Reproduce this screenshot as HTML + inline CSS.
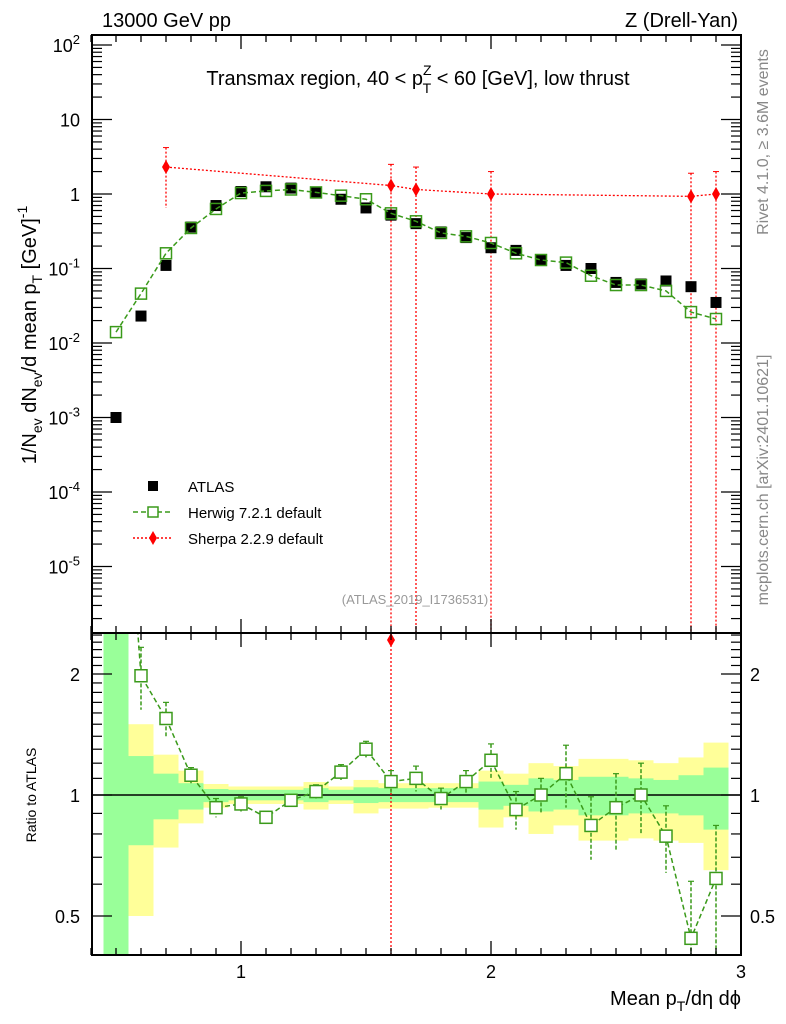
<!DOCTYPE html>
<html><head><meta charset="utf-8"><style>
html,body{margin:0;padding:0;background:#fff;width:786px;height:1024px;overflow:hidden;}
svg{display:block;font-family:"Liberation Sans",sans-serif;}
</style></head><body>
<svg id="c" width="786" height="1024" viewBox="0 0 786 1024" xmlns="http://www.w3.org/2000/svg">
<defs>
<clipPath id="cm"><rect x="92" y="35" width="649" height="598"/></clipPath>
<clipPath id="cr"><rect x="92" y="633" width="649" height="322"/></clipPath>
</defs>
<g id="bands" clip-path="url(#cr)"></g>
<g id="main"></g>
<g id="ratio"></g>
<g id="axes"></g>
<text x="102" y="27" font-size="20">13000 GeV pp</text>
<text x="738" y="27" font-size="20" text-anchor="end">Z (Drell-Yan)</text>
<text x="418" y="85" font-size="20" text-anchor="middle">Transmax region, 40 &lt; p<tspan font-size="14" dy="-10">Z</tspan><tspan font-size="14" dx="-9" dy="18">T</tspan><tspan dy="-8"> &lt; 60 [GeV], low thrust</tspan></text>
<text x="415" y="604" font-size="13" fill="#999" text-anchor="middle">(ATLAS_2019_I1736531)</text>
<text transform="translate(768,142) rotate(-90)" font-size="16" fill="#888" text-anchor="middle">Rivet 4.1.0, ≥ 3.6M events</text>
<text transform="translate(768,480) rotate(-90)" font-size="16" fill="#888" text-anchor="middle">mcplots.cern.ch [arXiv:2401.10621]</text>
<text transform="translate(36,335) rotate(-90)" font-size="20" text-anchor="middle">1/N<tspan font-size="14" dy="6">ev</tspan><tspan dy="-6"> dN</tspan><tspan font-size="14" dy="6">ev</tspan><tspan dy="-6">/d mean p</tspan><tspan font-size="14" dy="6">T</tspan><tspan dy="-6"> [GeV]</tspan><tspan font-size="14" dy="-9">-1</tspan></text>
<text transform="translate(36,795) rotate(-90)" font-size="14" text-anchor="middle">Ratio to ATLAS</text>
<text x="741" y="1005" font-size="20" text-anchor="end">Mean p<tspan font-size="14" dy="6">T</tspan><tspan dy="-6">/dη dϕ</tspan></text>
<g>
<rect x="148" y="481" width="10" height="10" fill="#000"/>
<text x="188" y="492" font-size="15">ATLAS</text>
<line x1="133" y1="512" x2="173" y2="512" stroke="#3a9a1a" stroke-width="1.5" stroke-dasharray="5,3"/>
<rect x="148" y="507" width="10" height="10" fill="#fff" stroke="#3a9a1a" stroke-width="1.5"/>
<text x="188" y="518" font-size="15">Herwig 7.2.1 default</text>
<line x1="133" y1="538" x2="173" y2="538" stroke="#f00" stroke-width="1.5" stroke-dasharray="2,2"/>
<path d="M153,531 L157,538 L153,545 L149,538Z" fill="#f00"/>
<text x="188" y="544" font-size="15">Sherpa 2.2.9 default</text>
</g>
</svg>
<script>
const xBins=[0.5,0.6,0.7,0.8,0.9,1.0,1.1,1.2,1.3,1.4,1.5,1.6,1.7,1.8,1.9,2.0,2.1,2.2,2.3,2.4,2.5,2.6,2.7,2.8,2.9];
const atlasVals=[1e-3,0.023,0.11,0.36,0.7,1.08,1.25,1.2,1.05,0.85,0.65,0.52,0.4,0.31,0.26,0.19,0.175,0.13,0.11,0.1,0.065,0.062,0.068,0.057,0.035];
const herwigVals=[0.014,0.046,0.16,0.35,0.63,1.03,1.1,1.15,1.05,0.95,0.85,0.55,0.43,0.3,0.27,0.22,0.16,0.13,0.12,0.08,0.06,0.06,0.05,0.026,0.021];
const herwigRatio=[14,1.98,1.55,1.12,0.93,0.95,0.88,0.97,1.02,1.14,1.3,1.08,1.1,0.98,1.08,1.22,0.92,1.0,1.13,0.84,0.93,1.0,0.79,0.44,0.62];
const herwigRatioErr=[0.4,0.35,0.15,0.05,0.05,0.04,0.03,0.03,0.04,0.05,0.06,0.07,0.08,0.06,0.07,0.12,0.1,0.1,0.2,0.15,0.2,0.2,0.15,0.17,0.22];
const sherpaX=[0.7,1.6,1.7,2.0,2.8,2.9];
const sherpaVals=[2.3,1.3,1.15,1.0,0.93,1.0];
const sherpaUp=[4.2,2.5,2.3,2.0,1.9,2.0];
const sherpaDown=[0.65,1e-7,1e-7,1e-7,1e-7,1e-7];
const yellowUp=[9,1.5,1.26,1.15,1.065,1.05,1.05,1.05,1.077,1.05,1.09,1.07,1.07,1.07,1.07,1.15,1.13,1.2,1.18,1.23,1.23,1.22,1.2,1.24,1.35];
const yellowDn=[0.1,0.5,0.74,0.85,0.93,0.95,0.95,0.95,0.92,0.95,0.9,0.925,0.925,0.93,0.93,0.83,0.88,0.8,0.84,0.77,0.77,0.78,0.77,0.76,0.65];
const greenUp=[9,1.25,1.13,1.07,1.035,1.03,1.03,1.03,1.04,1.03,1.045,1.04,1.04,1.04,1.04,1.08,1.06,1.1,1.09,1.11,1.11,1.1,1.09,1.12,1.17];
const greenDn=[0.1,0.75,0.87,0.92,0.96,0.97,0.97,0.97,0.96,0.97,0.955,0.96,0.96,0.96,0.96,0.92,0.94,0.91,0.92,0.89,0.89,0.9,0.9,0.89,0.82];
const xTickLabels=[1,2,3];
const yMainTicks=[-5,-4,-3,-2,-1,0,1,2];
const yRatioTicks=[0.5,1,2];

const NS="http://www.w3.org/2000/svg";
const X=v=>241+(v-1)*250;
const Y=v=>194-Math.log10(v)*74.5;
const R=v=>795-Math.log2(v)*121;
function mk(p,t,a){const e=document.createElementNS(NS,t);for(const k in a)e.setAttribute(k,a[k]);p.appendChild(e);return e;}
const bands=document.getElementById('bands'),main=document.getElementById('main'),ratio=document.getElementById('ratio'),axes=document.getElementById('axes');
const G="#3a9a1a";
xBins.forEach((b,i)=>{
 const x0=X(b-0.05),w=X(b+0.05)-x0;
 let r=mk(bands,'rect',{x:x0,y:R(yellowUp[i]),width:w,height:R(yellowDn[i])-R(yellowUp[i]),fill:'#ffff99'});
 
 
 r=mk(bands,'rect',{x:x0,y:R(greenUp[i]),width:w,height:R(greenDn[i])-R(greenUp[i]),fill:'#99ff99'});
 
 
});
mk(ratio,'line',{x1:92,x2:741,y1:R(1),y2:R(1),stroke:'#000','stroke-width':1.5});
const gm=mk(main,'g',{'clip-path':'url(#cm)'});
mk(gm,'polyline',{points:sherpaX.map((x,i)=>X(x)+','+Y(sherpaVals[i])).join(' '),fill:'none',stroke:'#f00','stroke-width':1.3,'stroke-dasharray':'2,2'});
sherpaX.forEach((x,i)=>{
 mk(gm,'line',{x1:X(x),x2:X(x),y1:Y(sherpaUp[i]),y2:Y(sherpaDown[i]),stroke:'#f00','stroke-width':1.3,'stroke-dasharray':'2,2'});
 mk(gm,'line',{x1:X(x)-3,x2:X(x)+3,y1:Y(sherpaUp[i]),y2:Y(sherpaUp[i]),stroke:'#f00','stroke-width':1});
 const cx=X(x),cy=Y(sherpaVals[i]);
 const p=mk(gm,'path',{d:`M${cx},${cy-7}L${cx+4},${cy}L${cx},${cy+7}L${cx-4},${cy}Z`,fill:'#f00'});
 
 
});
xBins.forEach((x,i)=>{
 const r=mk(gm,'rect',{x:X(x)-5.5,y:Y(atlasVals[i])-5.5,width:11,height:11,fill:'#000'});
 
 
});
mk(gm,'polyline',{points:xBins.map((x,i)=>X(x)+','+Y(herwigVals[i])).join(' '),fill:'none',stroke:G,'stroke-width':1.5,'stroke-dasharray':'5,3'});
xBins.forEach((x,i)=>{
 const r=mk(gm,'rect',{x:X(x)-5.5,y:Y(herwigVals[i])-5.5,width:11,height:11,fill:'none',stroke:G,'stroke-width':1.5});
 
 
});
const gr=mk(ratio,'g',{'clip-path':'url(#cr)'});
mk(gr,'line',{x1:X(1.6),x2:X(1.6),y1:633,y2:955,stroke:'#f00','stroke-width':1.3,'stroke-dasharray':'2,2'});
mk(gr,'path',{d:`M${X(1.6)},633L${X(1.6)+4},640L${X(1.6)},647L${X(1.6)-4},640Z`,fill:'#f00'});
mk(gr,'polyline',{points:xBins.map((x,i)=>X(x)+','+R(herwigRatio[i])).join(' '),fill:'none',stroke:G,'stroke-width':1.5,'stroke-dasharray':'5,3'});
xBins.forEach((x,i)=>{
 const v=herwigRatio[i],e=herwigRatioErr[i];
 mk(gr,'line',{x1:X(x),x2:X(x),y1:R(v+e),y2:R(Math.max(v-e,0.05)),stroke:G,'stroke-width':1.5,'stroke-dasharray':'4,2'});
 mk(gr,'line',{x1:X(x)-3,x2:X(x)+3,y1:R(v+e),y2:R(v+e),stroke:G,'stroke-width':1.2});
 const r=mk(gr,'rect',{x:X(x)-6,y:R(v)-6,width:12,height:12,fill:'#fff',stroke:G,'stroke-width':1.5});
 
 
});
mk(axes,'rect',{x:92,y:35,width:649,height:598,fill:'none',stroke:'#000','stroke-width':2});
mk(axes,'rect',{x:92,y:633,width:649,height:322,fill:'none',stroke:'#000','stroke-width':2});
for(let k=4;k<=30;k++){const v=k/10,x=X(v),maj=(k%10==0),L=maj?14:7;
 [[35,1],[633,-1],[633,1],[955,-1]].forEach(([y,d])=>mk(axes,'line',{x1:x,x2:x,y1:y,y2:y+d*L,stroke:'#000','stroke-width':1.3}));}
xTickLabels.forEach(v=>{const t=mk(axes,'text',{x:X(v),y:978,'font-size':18,'text-anchor':'middle'});t.textContent=v;
 
 });
for(let d=-6;d<=2;d++){for(let m=1;m<10;m++){const v=m*Math.pow(10,d),y=Y(v);if(y<35||y>633)continue;const L=m==1?20:10;
 mk(axes,'line',{x1:92,x2:92+L,y1:y,y2:y,stroke:'#000','stroke-width':1.2});mk(axes,'line',{x1:741,x2:741-L,y1:y,y2:y,stroke:'#000','stroke-width':1.2});}}
yMainTicks.forEach(d=>{const y=Y(Math.pow(10,d));let t;
 t=mk(axes,'text',{x:80,y:y+7,'font-size':18,'text-anchor':'end'});
 if(d==0){t.textContent='1';}
 else if(d==1){t.textContent='10';}
 else{t.innerHTML='10<tspan font-size="13" dy="-8">'+d+'</tspan>';}
 
 });
[0.4,0.5,0.6,0.7,0.8,0.9,1,1.1,1.2,1.3,1.4,1.5,1.6,1.7,1.8,1.9,2,2.1,2.2,2.3,2.4,2.5].forEach(v=>{const y=R(v);if(y<633||y>955)return;const L=(v==0.5||v==1||v==2)?20:10;
 mk(axes,'line',{x1:92,x2:92+L,y1:y,y2:y,stroke:'#000','stroke-width':1.2});mk(axes,'line',{x1:741,x2:741-L,y1:y,y2:y,stroke:'#000','stroke-width':1.2});});
yRatioTicks.forEach(v=>{[[80,'end'],[750,'start']].forEach(([x,a])=>{const t=mk(axes,'text',{x:x,y:R(v)+7,'font-size':18,'text-anchor':a});t.textContent=v;
 
 });});
</script>
</body></html>
